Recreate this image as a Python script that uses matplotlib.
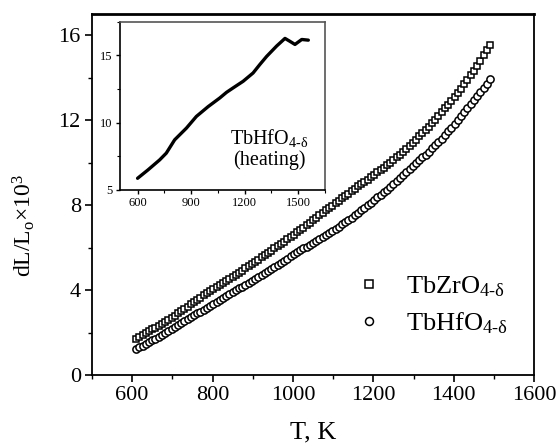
import matplotlib
matplotlib.use('Agg')
import matplotlib.pyplot as plt
from matplotlib.ticker import MultipleLocator

plt.rcParams['font.family'] = ['Liberation Serif', 'DejaVu Serif']
plt.rcParams['mathtext.fontset'] = 'custom'
plt.rcParams['mathtext.rm'] = 'Liberation Serif'
plt.rcParams['mathtext.it'] = 'Liberation Serif:italic'
plt.rcParams['mathtext.bf'] = 'Liberation Serif:bold'

# Dilatometry, both samples (T in K, dL/Lo x 10^3)
temp_k = [610, 618, 626, 634, 642, 650, 658, 666, 674, 682,
          690, 698, 706, 714, 722, 730, 738, 746, 754, 762,
          770, 778, 786, 794, 802, 810, 818, 826, 834, 842,
          850, 858, 866, 874, 882, 890, 898, 906, 914, 922,
          930, 938, 946, 954, 962, 970, 978, 986, 994, 1002,
          1010, 1018, 1026, 1034, 1042, 1050, 1058, 1066, 1074, 1082,
          1090, 1098, 1106, 1114, 1122, 1130, 1138, 1146, 1154, 1162,
          1170, 1178, 1186, 1194, 1202, 1210, 1218, 1226, 1234, 1242,
          1250, 1258, 1266, 1274, 1282, 1290, 1298, 1306, 1314, 1322,
          1330, 1338, 1346, 1354, 1362, 1370, 1378, 1386, 1394, 1402,
          1410, 1418, 1426, 1434, 1442, 1450, 1458, 1466, 1474, 1482, 1490]

tbzro = [1.72, 1.80, 1.89, 1.97, 2.06, 2.15, 2.23, 2.31, 2.39, 2.49,
         2.59, 2.69, 2.80, 2.90, 3.01, 3.12, 3.22, 3.33, 3.43, 3.54,
         3.64, 3.75, 3.86, 3.96, 4.06, 4.15, 4.25, 4.34, 4.42, 4.51,
         4.61, 4.71, 4.81, 4.91, 5.02, 5.12, 5.22, 5.33, 5.43, 5.54,
         5.64, 5.75, 5.86, 5.97, 6.08, 6.18, 6.28, 6.40, 6.50, 6.61,
         6.72, 6.83, 6.94, 7.06, 7.18, 7.29, 7.41, 7.53, 7.65, 7.76,
         7.87, 7.98, 8.09, 8.21, 8.32, 8.43, 8.54, 8.65, 8.77, 8.88,
         8.98, 9.09, 9.20, 9.32, 9.43, 9.54, 9.65, 9.76, 9.88, 10.00,
         10.12, 10.24, 10.37, 10.51, 10.65, 10.79, 10.93, 11.08, 11.23, 11.38,
         11.53, 11.69, 11.86, 12.02, 12.19, 12.37, 12.55, 12.73, 12.91, 13.10,
         13.29, 13.48, 13.68, 13.89, 14.11, 14.33, 14.56, 14.80, 15.04, 15.29, 15.55]

tbhfo = [1.23, 1.31, 1.39, 1.47, 1.55, 1.63, 1.72, 1.81, 1.90, 1.99,
         2.09, 2.19, 2.28, 2.37, 2.46, 2.55, 2.64, 2.73, 2.81, 2.90,
         2.99, 3.08, 3.17, 3.25, 3.34, 3.43, 3.53, 3.62, 3.72, 3.81,
         3.90, 3.99, 4.08, 4.16, 4.25, 4.34, 4.44, 4.53, 4.63, 4.72,
         4.81, 4.91, 5.00, 5.10, 5.19, 5.29, 5.39, 5.48, 5.59, 5.69,
         5.79, 5.88, 5.97, 6.05, 6.14, 6.23, 6.32, 6.41, 6.50, 6.59,
         6.69, 6.79, 6.88, 6.98, 7.09, 7.19, 7.30, 7.41, 7.53, 7.64,
         7.76, 7.88, 8.00, 8.12, 8.24, 8.36, 8.48, 8.60, 8.72, 8.84,
         8.98, 9.11, 9.26, 9.40, 9.55, 9.69, 9.83, 9.97, 10.11, 10.24,
         10.38, 10.52, 10.67, 10.82, 10.97, 11.13, 11.30, 11.47, 11.65, 11.83,
         12.01, 12.19, 12.38, 12.56, 12.75, 12.93, 13.11, 13.30, 13.49, 13.70, 13.93]

# Heating run of TbHfO for the inset
heat_t = [600, 658, 724, 761, 808, 874, 930, 996, 1061, 1099,
          1136, 1192, 1248, 1286, 1324, 1380, 1427, 1455, 1483, 1521, 1558]
heat_dl = [5.87, 6.49, 7.24, 7.74, 8.73, 9.60, 10.47, 11.20, 11.84, 12.26,
           12.59, 13.08, 13.70, 14.33, 14.93, 15.70, 16.27, 16.05, 15.82, 16.19, 16.14]

sub = r'$_{\mathrm{4\text{-}\delta}}$'

fig = plt.figure(figsize=(5.57, 4.46), dpi=100)
ax = fig.add_axes([0.165, 0.159, 0.794, 0.810])

ax.plot(temp_k, tbzro, 's', mfc='white', mec='black', ms=4.6, mew=1.1,
        label='TbZrO' + sub)
ax.plot(temp_k, tbhfo, 'o', mfc='white', mec='black', ms=5.2, mew=1.1,
        label='TbHfO' + sub)

ax.set_xlim(500, 1600)
ax.set_ylim(0, 17)
ax.xaxis.set_major_locator(MultipleLocator(200))
ax.xaxis.set_minor_locator(MultipleLocator(100))
ax.yaxis.set_major_locator(MultipleLocator(4))
ax.yaxis.set_minor_locator(MultipleLocator(2))
ax.tick_params(which='major', direction='out', length=5, width=1.2, labelsize=16, pad=3)
ax.tick_params(which='minor', direction='out', length=3, width=1.0)
ax.tick_params(top=False, right=False)
for s in ax.spines.values():
    s.set_linewidth(1.3)
ax.spines['top'].set_linewidth(2)

ax.set_xlabel('T, K', fontsize=19, labelpad=12)
ax.set_ylabel(r'dL/L$_\mathrm{o}$$\times$10$^3$', fontsize=17)
ax.yaxis.set_label_coords(-0.125, 0.415)

ax.legend(loc='lower right', bbox_to_anchor=(0.995, 0.042), frameon=False,
          fontsize=19, handletextpad=0.9, labelspacing=0.45, markerscale=1.1,
          handlelength=1.0)

ins = fig.add_axes([0.215, 0.574, 0.368, 0.377])
ins.plot(heat_t, heat_dl, '-', color='black', lw=2.4, solid_capstyle='round')
ins.set_xlim(500, 1650)
ins.set_ylim(5, 17.5)
ins.xaxis.set_major_locator(MultipleLocator(300))
ins.xaxis.set_minor_locator(MultipleLocator(150))
ins.yaxis.set_major_locator(MultipleLocator(5))
ins.yaxis.set_minor_locator(MultipleLocator(2.5))
ins.tick_params(which='major', direction='out', length=3, width=1, labelsize=9, pad=2)
ins.tick_params(which='minor', direction='out', length=2, width=0.8)
for s in ins.spines.values():
    s.set_linewidth(1.2)
ins.spines['top'].set_color('#555555')
ins.spines['right'].set_color('#555555')
ins.text(0.73, 0.12, 'TbHfO' + sub + '\n(heating)', transform=ins.transAxes,
         fontsize=14.5, ha='center', va='bottom', linespacing=1.05)

fig.savefig('out.png', dpi=100)
